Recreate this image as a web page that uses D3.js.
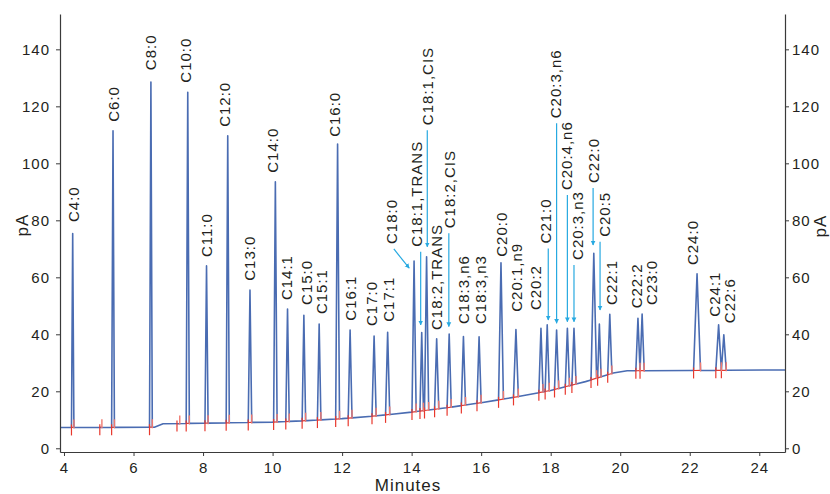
<!DOCTYPE html>
<html>
<head>
<meta charset="utf-8">
<script src="https://cdn.jsdelivr.net/npm/d3@7"></script>
<style>
  body { margin: 0; background: #fff; }
  svg { display: block; }
  .lbl { font-family: "Liberation Sans Narrow", "Liberation Sans", sans-serif; fill: #231f20; }
</style>
</head>
<body>
<svg id="chart"></svg>
<script>
// Peak table (minutes, pA)
const peakNames = ["C4:0", "C6:0", "C8:0", "C10:0", "C11:0", "C12:0", "C13:0", "C14:0", "C14:1", "C15:0",
  "C15:1", "C16:0", "C16:1", "C17:0", "C17:1", "C18:0", "C18:1,TRANS", "C18:1,CIS", "C18:2,TRANS", "C18:2,CIS",
  "C18:3,n6", "C18:3,n3", "C20:0", "C20:1,n9", "C20:2", "C21:0", "C20:3,n6", "C20:4,n6", "C20:3,n3", "C22:0",
  "C20:5", "C22:1", "C22:2", "C23:0", "C24:0", "C24:1", "C22:6"];
const peakTimes = [4.25, 5.41, 6.50, 7.56, 8.10, 8.71, 9.35, 10.08, 10.43, 10.90,
  11.34, 11.87, 12.23, 12.92, 13.31, 14.07, 14.29, 14.43, 14.72, 15.08,
  15.49, 15.94, 16.57, 17.00, 17.72, 17.90, 18.17, 18.48, 18.67, 19.24,
  19.40, 19.70, 20.51, 20.63, 22.21, 22.83, 22.98];
const peakHeights = [75.4, 111.4, 128.5, 124.9, 64.0, 109.7, 55.5, 93.5, 48.9, 46.7,
  43.6, 106.8, 41.5, 39.4, 40.7, 65.7, 40.6, 67.2, 38.4, 40.1,
  39.2, 39.1, 65.1, 41.7, 42.1, 43.3, 41.5, 42.1, 42.1, 68.4,
  43.6, 47.0, 45.6, 47.1, 61.2, 43.3, 39.8];
const peakHalfWidths = [0.035, 0.04, 0.04, 0.045, 0.045, 0.045, 0.05, 0.05, 0.05, 0.05,
  0.05, 0.055, 0.055, 0.06, 0.06, 0.06, 0.05, 0.06, 0.06, 0.06,
  0.06, 0.06, 0.07, 0.07, 0.06, 0.06, 0.06, 0.06, 0.06, 0.08,
  0.05, 0.06, 0.06, 0.06, 0.1, 0.08, 0.07];

// where each peak name sits (minutes, pA at the foot of the text)
const labelTimes = [4.29, 5.42, 6.50, 7.49, 8.10, 8.63, 9.35, 10.00, 10.40, 10.99,
  11.42, 11.79, 12.24, 12.84, 13.35, 13.43, 14.15, 14.47, 14.73, 15.10,
  15.49, 15.98, 16.58, 17.02, 17.58, 17.86, 18.15, 18.46, 18.77, 19.24,
  19.55, 19.76, 20.47, 20.91, 22.10, 22.72, 23.15];
const labelLevels = [79.4, 114.6, 132.7, 128.3, 67.1, 112.8, 58.8, 96.7, 52.0, 50.3,
  47.1, 109.3, 44.8, 42.9, 44.4, 71.7, 70.7, 113.4, 41.5, 77.2,
  43.6, 43.6, 67.2, 47.9, 48.5, 71.9, 115.8, 90.6, 66.1, 93.1,
  74.2, 50.3, 49.1, 50.3, 64.3, 46.2, 43.9];

// pointer arrows: label -> tip (minutes, pA)
const arrowNames = ["C18:0", "C18:1,TRANS", "C18:1,CIS", "C18:2,CIS", "C21:0", "C20:3,n6", "C20:4,n6", "C20:3,n3", "C22:0", "C20:5"];
const arrowTipTimes = [13.93, 14.26, 14.45, 15.07, 17.93, 18.17, 18.48, 18.67, 19.22, 19.42];
const arrowTipLevels = [63.2, 43.3, 70.7, 42.7, 45.0, 43.9, 44.4, 44.4, 71.3, 48.5];

// detector baseline
const baselineTimes = [3.885, 6.6, 6.85, 8.0, 10.0, 11.0, 12.0, 13.0, 14.0, 15.0, 16.0, 17.0, 18.0, 19.0, 19.8, 20.2, 22.0, 24.74];
const baselineLevels = [7.3, 7.4, 8.6, 8.8, 9.2, 9.7, 10.4, 11.4, 12.7, 14.2, 16.0, 18.0, 20.3, 23.4, 26.4, 27.2, 27.3, 27.5];

// small integration events without a named peak
const minorStarts = [5.03, 7.25];
const minorEnds = [5.09, 7.33];

const xTicks = [4, 6, 8, 10, 12, 14, 16, 18, 20, 22, 24];
const yTicks = [0, 20, 40, 60, 80, 100, 120, 140];

const width = 830, height = 494;
const margin = { top: 14, right: 45, bottom: 42, left: 60 };
const W = width - margin.left - margin.right;
const H = height - margin.top - margin.bottom;

const svg = d3.select("#chart").attr("width", width).attr("height", height);
const g = svg.append("g").attr("transform", `translate(${margin.left},${margin.top})`);

const x = d3.scaleLinear().domain([3.885, 24.74]).range([0, W]);
const y = d3.scaleLinear().domain([-1.3, 152.4]).range([H, 0]);
const base = d3.scaleLinear().domain(baselineTimes).range(baselineLevels);

const peaks = peakNames.map((name, i) => ({
  name, t: peakTimes[i], v: peakHeights[i], w: peakHalfWidths[i],
  lt: labelTimes[i], lv: labelLevels[i]
}));

// trace: baseline points outside peaks, plus start/apex/end of each peak
const pts = [];
baselineTimes.forEach((t, i) => {
  if (!peaks.some(p => t > p.t - p.w && t < p.t + p.w)) pts.push([t, baselineLevels[i]]);
});
peaks.forEach(p => {
  pts.push([p.t - p.w, base(p.t - p.w)]);
  pts.push([p.t, p.v]);
  pts.push([p.t + p.w, base(p.t + p.w)]);
});
pts.sort((a, b) => a[0] - b[0]);

// red integration baseline segments
const events = peaks.map(p => [p.t - p.w, p.t + p.w]).concat(minorStarts.map((s, i) => [s, minorEnds[i]]));
g.selectAll(".seg").data(events).enter().append("line")
  .attr("x1", d => x(d[0])).attr("y1", d => y(base(d[0])))
  .attr("x2", d => x(d[1])).attr("y2", d => y(base(d[1])))
  .attr("stroke", "#e8382d").attr("stroke-width", 1.2);

const line = d3.line().x(d => x(d[0])).y(d => y(d[1]));
g.append("path").datum(pts)
  .attr("d", line)
  .attr("fill", "none")
  .attr("stroke", "#4a6cb2")
  .attr("stroke-width", 1.6)
  .attr("stroke-linejoin", "round");

// start marks (down) and end marks (up)
g.selectAll(".mstart").data(events).enter().append("line")
  .attr("x1", d => x(d[0])).attr("x2", d => x(d[0]))
  .attr("y1", d => y(base(d[0])) - 3).attr("y2", d => y(base(d[0])) + 8)
  .attr("stroke", "#e8382d").attr("stroke-width", 1.2);
g.selectAll(".mend").data(events).enter().append("line")
  .attr("x1", d => x(d[1])).attr("x2", d => x(d[1]))
  .attr("y1", d => y(base(d[1])) - 8).attr("y2", d => y(base(d[1])) + 1)
  .attr("stroke", "#f07a70").attr("stroke-width", 1.4);

// arrows
svg.append("defs").append("marker")
  .attr("id", "ah").attr("viewBox", "0 0 10 10").attr("refX", 9).attr("refY", 5)
  .attr("markerWidth", 4).attr("markerHeight", 5).attr("orient", "auto")
  .attr("markerUnits", "strokeWidth")
  .append("path").attr("d", "M0,0L10,5L0,10Z").attr("fill", "#27a9e1");

const arrows = arrowNames.map((n, i) => {
  const p = peaks.find(q => q.name === n);
  const tx = x(arrowTipTimes[i]), ty = y(arrowTipLevels[i]);
  const lx = x(p.lt), ly = y(p.lv);
  const sx = Math.abs(tx - lx) < 8 ? tx : lx + 2;
  return { sx, sy: ly + 5, tx, ty };
});
g.selectAll(".arrow").data(arrows).enter().append("line")
  .attr("x1", d => d.sx).attr("y1", d => d.sy)
  .attr("x2", d => d.tx).attr("y2", d => d.ty)
  .attr("stroke", "#27a9e1").attr("stroke-width", 1.2)
  .attr("marker-end", "url(#ah)");

// peak names
g.selectAll(".pname").data(peaks).enter().append("text")
  .attr("class", "lbl")
  .attr("transform", d => `translate(${x(d.lt)},${y(d.lv)}) rotate(-90)`)
  .attr("dy", "0.35em")
  .style("font-size", "15px")
  .style("letter-spacing", "1px")
  .text(d => d.name);

// axes
function styleAxis(sel) {
  sel.attr("font-family", null).attr("font-size", null);
  sel.selectAll("path.domain").attr("stroke", "#3a3a3a").attr("stroke-width", 1.2);
  sel.selectAll(".tick line").attr("stroke", "#3a3a3a").attr("stroke-width", 1);
  sel.selectAll(".tick text").attr("class", "lbl").attr("fill", "#231f20")
    .style("font-size", "15px").style("letter-spacing", "1px");
}

g.append("g").attr("transform", `translate(0,${H})`)
  .call(d3.axisBottom(x).tickValues(xTicks).tickFormat(d3.format("d")).tickSize(4).tickSizeOuter(0).tickPadding(6))
  .call(styleAxis);
g.append("g")
  .call(d3.axisLeft(y).tickValues(yTicks).tickSize(4).tickSizeOuter(0).tickPadding(6))
  .call(styleAxis);
g.append("g").attr("transform", `translate(${W},0)`)
  .call(d3.axisRight(y).tickValues(yTicks).tickSize(4).tickSizeOuter(0).tickPadding(3))
  .call(styleAxis);

// titles
svg.append("text").attr("class", "lbl")
  .attr("x", 408).attr("y", 491).attr("text-anchor", "middle")
  .style("font-size", "17px").style("letter-spacing", "1px")
  .text("Minutes");
svg.append("text").attr("class", "lbl")
  .attr("transform", "translate(22,225) rotate(-90)").attr("text-anchor", "middle").attr("dy", "0.35em")
  .style("font-size", "17px").style("letter-spacing", "1px")
  .text("pA");
svg.append("text").attr("class", "lbl")
  .attr("transform", "translate(820,226) rotate(-90)").attr("text-anchor", "middle").attr("dy", "0.35em")
  .style("font-size", "17px").style("letter-spacing", "1px")
  .text("pA");
</script>
</body>
</html>
